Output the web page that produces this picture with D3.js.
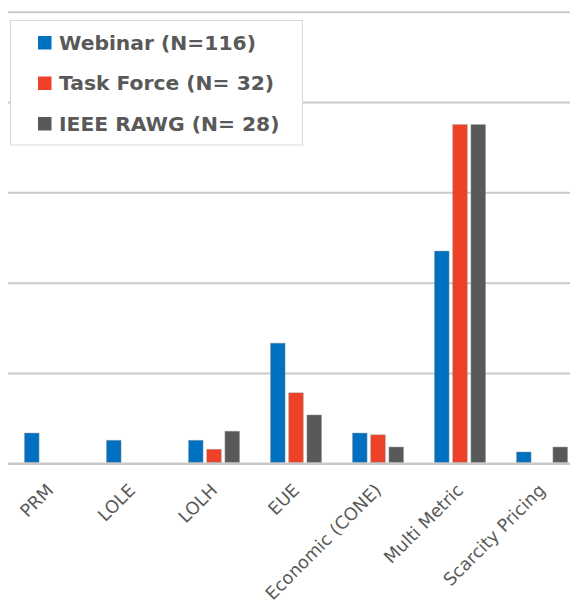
<!DOCTYPE html>
<html>
<head>
<meta charset="utf-8">
<script src="https://cdn.jsdelivr.net/npm/d3@7"></script>
<style>
  html, body { margin: 0; padding: 0; background: #fff; }
  svg { display: block; }
</style>
</head>
<body>
<svg id="chart" width="570" height="608"></svg>
<script>
// Share of respondents (%) naming each resource adequacy metric
const categories = ["PRM", "LOLE", "LOLH", "EUE", "Economic (CONE)", "Multi Metric", "Scarcity Pricing"];
const seriesNames = ["Webinar (N=116)", "Task Force (N= 32)", "IEEE RAWG (N= 28)"];
const webinar   = [6.7, 5.1, 5.1, 26.6, 6.7, 47.0, 2.5];
const taskForce = [0, 0, 3.1, 15.6, 6.3, 75.0, 0];
const ieeeRawg  = [0, 0, 7.1, 10.7, 3.6, 75.0, 3.6];
const gridTicks = [0, 20, 40, 60, 80, 100];

const seriesValues = [webinar, taskForce, ieeeRawg];
const colors = ["#0070C0", "#EE4127", "#595959"];

const svg = d3.select("#chart");

const x0 = d3.scaleBand().domain(categories).range([9, 583]).padding(0);
const x1 = d3.scaleBand().domain(d3.range(seriesNames.length)).range([-25.5, 25.5]).paddingInner(0.2);
const y = d3.scaleLinear().domain([0, 100]).range([463.3, 11.7]);

// horizontal gridlines
const grid = svg.append("g")
  .attr("transform", "translate(8,0)")
  .call(d3.axisLeft(y).tickValues(gridTicks).tickSize(-570).tickFormat(""));
grid.select(".domain").remove();
grid.selectAll(".tick line")
  .attr("stroke", "#c9c9c9")
  .attr("stroke-width", d => d === 0 ? 2.4 : 2);

// bars
const groups = svg.append("g").selectAll("g")
  .data(categories)
  .join("g")
  .attr("transform", d => `translate(${x0(d) + x0.bandwidth() / 2},0)`);

groups.selectAll("rect")
  .data((c, ci) => seriesValues.map((vals, si) => ({ si, v: vals[ci] })).filter(d => d.v > 0))
  .join("rect")
  .attr("x", d => x1(d.si))
  .attr("width", x1.bandwidth())
  .attr("y", d => y(d.v))
  .attr("height", d => y(0) - y(d.v) - 1)
  .attr("fill", d => colors[d.si])
  .attr("stroke", "rgba(150,150,150,0.55)")
  .attr("stroke-width", 0.8);

// category labels, rotated
svg.append("g").selectAll("text")
  .data(categories)
  .join("text")
  .attr("transform", d => `translate(${x0(d) + x0.bandwidth() / 2},${487}) rotate(-45)`)
  .attr("text-anchor", "end")
  .attr("dy", "0.35em")
  .attr("font-family", "'Century Gothic', 'DejaVu Sans', sans-serif")
  .attr("font-size", 17.6)
  .attr("fill", "#595959")
  .text(d => d);

// legend
const legend = svg.append("g");
legend.append("rect")
  .attr("x", 10.5).attr("y", 20.5)
  .attr("width", 292).attr("height", 124.5)
  .attr("fill", "#fff")
  .attr("stroke", "#d9d9d9");

const rows = legend.selectAll("g.row")
  .data(seriesNames)
  .join("g")
  .attr("class", "row")
  .attr("transform", (d, i) => `translate(38,${36 + i * 40.5})`);
rows.append("rect")
  .attr("width", 13.5).attr("height", 13.5)
  .attr("fill", (d, i) => colors[i]);
rows.append("text")
  .attr("x", 21)
  .attr("y", 13.5)
  .attr("font-family", "'Century Gothic', 'DejaVu Sans', sans-serif")
  .attr("font-weight", "bold")
  .attr("font-size", 20.3)
  .attr("fill", "#595959")
  .text(d => d);
</script>
</body>
</html>
